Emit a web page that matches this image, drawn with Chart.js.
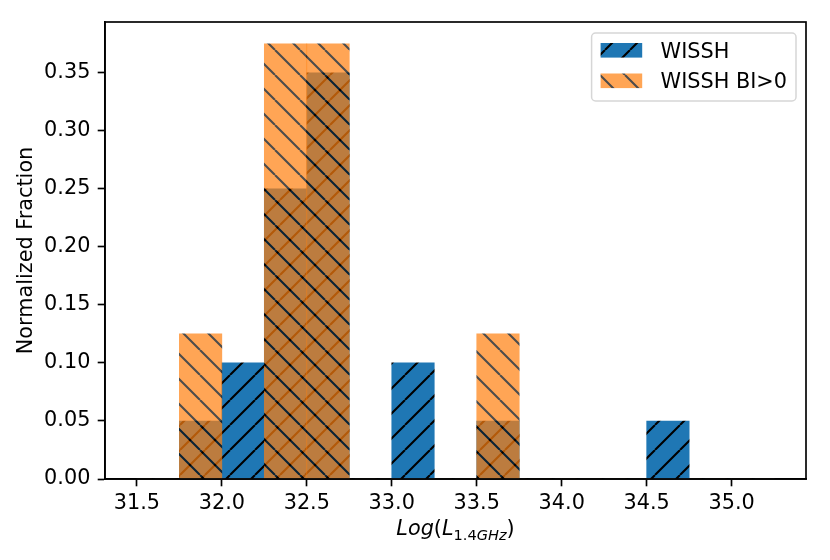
<!DOCTYPE html>
<html>
<head>
<meta charset="utf-8">
<script src="https://cdn.jsdelivr.net/npm/chart.js@4.4.0/dist/chart.umd.min.js"></script>
<style>
html, body { margin: 0; padding: 0; background: #ffffff; }
canvas { display: block; }
</style>
</head>
<body>
<canvas id="c" width="830" height="560"></canvas>
<script>
// ---- data ----
const binCenters = [31.625, 31.875, 32.125, 32.375, 32.625, 32.875, 33.125, 33.375, 33.625, 33.875, 34.125, 34.375, 34.625, 34.875, 35.125];
const binWidth = 0.25;
const wisshValues   = [0, 0.05, 0.10, 0.25, 0.35, 0, 0.10, 0, 0.05, 0, 0, 0, 0.05, 0, 0];
const wisshBIValues = [0, 0.125, 0, 0.375, 0.375, 0, 0, 0, 0.125, 0, 0, 0, 0, 0, 0];
const seriesLabels = ['WISSH', 'WISSH BI>0'];
const xTickValues = [31.5, 32.0, 32.5, 33.0, 33.5, 34.0, 34.5, 35.0];
const yTickValues = [0.00, 0.05, 0.10, 0.15, 0.20, 0.25, 0.30, 0.35];
const yAxisTitle = 'Normalized Fraction';
const xAxisTitleParts = [
  { t: 'Log', italic: true, sub: false },
  { t: '(', italic: false, sub: false },
  { t: 'L', italic: true, sub: false },
  { t: '1.4', italic: false, sub: true },
  { t: 'GHz', italic: true, sub: true },
  { t: ')', italic: false, sub: false }
];

// ---- styling ----
const FS = 20.8;
const FAM = "'DejaVu Sans', sans-serif";
const LW = 1.67;

const edgeMin = binCenters[0] - binWidth / 2;
const edgeMax = binCenters[binCenters.length - 1] + binWidth / 2;
const xMargin = (edgeMax - edgeMin) * 0.05;
const yMaxData = Math.max(...wisshValues, ...wisshBIValues);

function makeHatch(color, dir, alpha, shiftX) {
  const s = 25;
  const c = document.createElement('canvas');
  c.width = s; c.height = s;
  const g = c.getContext('2d');
  g.fillStyle = color;
  g.fillRect(0, 0, s, s);
  g.strokeStyle = '#000000';
  g.lineWidth = 2.08;
  g.beginPath();
  for (const k of [-s, 0, s]) {
    if (dir === '/') { g.moveTo(k, s); g.lineTo(k + s, 0); }
    else { g.moveTo(k, 0); g.lineTo(k + s, s); }
  }
  g.stroke();
  const c2 = document.createElement('canvas');
  c2.width = s; c2.height = s;
  const g2 = c2.getContext('2d');
  g2.globalAlpha = alpha;
  g2.drawImage(c, 0, 0);
  const main = document.getElementById('c').getContext('2d');
  const p = main.createPattern(c2, 'repeat');
  if (shiftX && p.setTransform) p.setTransform(new DOMMatrix([1, 0, 0, 1, shiftX, 0]));
  return p;
}

const blueHatch = makeHatch('#1f77b4', '/', 1.0, 5);
const orangeHatch = makeHatch('#ff7f0e', '\\', 0.7, 0);

const decorPlugin = {
  id: 'decor',
  afterDatasetsDraw(chart) {
    const { ctx, chartArea: a } = chart;
    ctx.save();
    ctx.strokeStyle = '#000000';
    ctx.lineWidth = LW;
    ctx.strokeRect(a.left, a.top, a.right - a.left, a.bottom - a.top);
    ctx.restore();
  },
  afterDraw(chart) {
    const { ctx, chartArea: a } = chart;
    ctx.save();
    // legend
    ctx.font = FS + 'px ' + FAM;
    const dsets = chart.data.datasets;
    let tw = 0;
    dsets.forEach(d => { tw = Math.max(tw, ctx.measureText(d.label).width); });
    const fw = 9 + 42 + 18 + tw + 9;
    const fh = 68;
    const fr = a.right - 10;
    const fl = fr - fw;
    const ft = a.top + 11;
    ctx.beginPath();
    if (ctx.roundRect) ctx.roundRect(fl, ft, fw, fh, 4); else ctx.rect(fl, ft, fw, fh);
    ctx.fillStyle = 'rgba(255,255,255,0.8)';
    ctx.fill();
    ctx.strokeStyle = 'rgba(204,204,204,0.8)';
    ctx.lineWidth = 1.5;
    ctx.stroke();
    dsets.forEach((d, i) => {
      const hy = ft + 10 + i * 30.5;
      ctx.fillStyle = d.backgroundColor;
      ctx.fillRect(fl + 9, hy, 41.6, 14.6);
      ctx.fillStyle = '#000000';
      ctx.textAlign = 'left';
      ctx.textBaseline = 'alphabetic';
      ctx.fillText(d.label, fl + 9 + 42 + 18, hy + 14.6);
    });
    // y axis title
    ctx.save();
    ctx.translate(32, (a.top + a.bottom) / 2);
    ctx.rotate(-Math.PI / 2);
    ctx.font = FS + 'px ' + FAM;
    ctx.textAlign = 'center';
    ctx.textBaseline = 'alphabetic';
    ctx.fillStyle = '#000000';
    ctx.fillText(yAxisTitle, 0, 0);
    ctx.restore();
    // x axis title with subscript
    const subFS = FS * 0.7;
    const fontOf = p => (p.italic ? 'italic ' : '') + (p.sub ? subFS : FS) + 'px ' + FAM;
    let total = 0;
    xAxisTitleParts.forEach(p => { ctx.font = fontOf(p); total += ctx.measureText(p.t).width; });
    let x = (a.left + a.right) / 2 - total / 2;
    const base = 535;
    ctx.textAlign = 'left';
    ctx.textBaseline = 'alphabetic';
    ctx.fillStyle = '#000000';
    xAxisTitleParts.forEach(p => {
      ctx.font = fontOf(p);
      ctx.fillText(p.t, x, p.sub ? base + 5 : base);
      x += ctx.measureText(p.t).width;
    });
    ctx.restore();
  }
};

const tickFont = { family: FAM, size: FS };
const gridOpts = { display: true, drawOnChartArea: false, drawTicks: true, tickLength: 7.3, tickWidth: LW, tickColor: '#000000', color: '#000000', offset: false };

new Chart(document.getElementById('c'), {
  type: 'bar',
  data: {
    datasets: [
      {
        label: seriesLabels[0],
        data: binCenters.map((x, i) => ({ x: x, y: wisshValues[i] })),
        backgroundColor: blueHatch,
        borderWidth: 0,
        grouped: false,
        barPercentage: 1.0,
        categoryPercentage: 1.0,
        order: 1
      },
      {
        label: seriesLabels[1],
        data: binCenters.map((x, i) => ({ x: x, y: wisshBIValues[i] })),
        backgroundColor: orangeHatch,
        borderWidth: 0,
        grouped: false,
        barPercentage: 1.0,
        categoryPercentage: 1.0,
        order: 0
      }
    ]
  },
  options: {
    responsive: false,
    animation: false,
    devicePixelRatio: 1,
    layout: { padding: { left: 0, right: 24, top: 22, bottom: 0 } },
    plugins: { legend: { display: false }, tooltip: { enabled: false }, title: { display: false } },
    scales: {
      x: {
        type: 'linear',
        offset: false,
        min: edgeMin - xMargin,
        max: edgeMax + xMargin,
        afterBuildTicks: s => { s.ticks = xTickValues.map(v => ({ value: v })); },
        afterFit: s => { s.height = 81; },
        grid: gridOpts,
        border: { display: true, color: '#000000', width: LW },
        ticks: { color: '#000000', font: tickFont, padding: 5, maxRotation: 0, autoSkip: false, callback: v => Number(v).toFixed(1) }
      },
      y: {
        type: 'linear',
        min: 0,
        max: yMaxData * 1.05,
        afterBuildTicks: s => { s.ticks = yTickValues.map(v => ({ value: v })); },
        afterFit: s => { s.width = 105; },
        grid: gridOpts,
        border: { display: true, color: '#000000', width: LW },
        ticks: { color: '#000000', font: tickFont, padding: 7.3, autoSkip: false, callback: v => Number(v).toFixed(2) }
      }
    }
  },
  plugins: [decorPlugin]
});
</script>
</body>
</html>
